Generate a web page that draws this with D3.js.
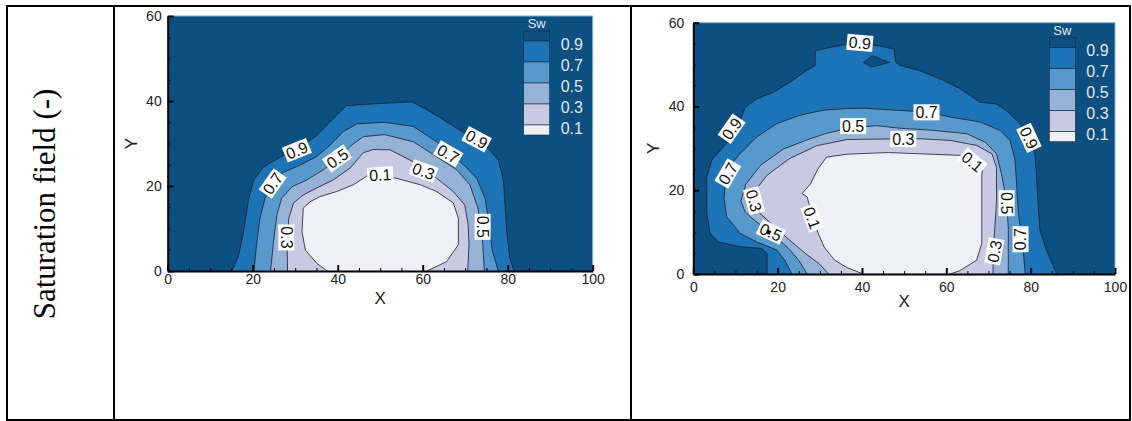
<!DOCTYPE html>
<html lang="en">
<head>
  <meta charset="UTF-8">
  <title>Saturation field</title>
  <style>
    body { margin: 0; background: #fff; }
  </style>
</head>
<body>
  <script src="https://d3js.org/d3.v7.min.js"></script>
  <svg id="chart" width="1132" height="421"></svg>
  <script>
    // contour levels and fill colours (first = above 0.9, last = below 0.1)
    const levels = [0.9, 0.7, 0.5, 0.3, 0.1];
    const bandColors = ["#0b5081", "#1c74b7", "#5799cc", "#95b3d7", "#c8c9e3", "#efeff7"];
    const xTicks = [0, 20, 40, 60, 80, 100];
    const yTicks = [0, 20, 40, 60];
    const xMinor = [5, 10, 15, 25, 30, 35, 45, 50, 55, 65, 70, 75, 85, 90, 95];
    const yMinor = [5, 10, 15, 25, 30, 35, 45, 50, 55];

    // left plot: contour lines [X, Y], bottom-left round to bottom-right
    const leftSw09 = [[15.1,0],[16.6,3.4],[17.8,8.9],[19.0,16.7],[20.3,21.5],[22.5,24.4],[26.5,26.8],[31.0,29.0],[35.0,31.8],[38.6,35.5],[42.0,38.9],[48.0,39.3],[57.5,39.8],[60.5,38.2],[64.5,35.8],[69.0,33.0],[75.0,29.3],[77.8,26.1],[79.0,21.4],[79.4,15.0],[79.8,9.0],[80.5,3.0],[81.5,0]];
    const leftSw07 = [[20.3,0],[20.9,6.2],[21.7,12.4],[22.9,17.1],[24.9,20.6],[27.2,23.2],[31.1,24.9],[35.0,26.9],[38.2,29.6],[41.3,32.8],[44.5,34.6],[51.0,35.0],[57.8,34.0],[63.3,30.4],[69.6,25.0],[72.7,21.8],[74.7,17.1],[75.6,10.8],[76.4,4.6],[77.8,0]];
    const leftSw05 = [[24.2,0],[24.9,6.9],[25.7,13.2],[26.8,17.1],[29.2,19.8],[32.7,21.4],[36.6,23.8],[40.1,26.5],[42.9,29.3],[46.0,31.6],[51.0,32.1],[57.8,30.4],[63.3,26.9],[68.0,23.8],[71.1,20.3],[73.0,14.8],[74.0,8.5],[74.5,0]];
    const leftSw03 = [[28.2,0],[28.1,6.2],[28.5,12.4],[29.6,16.0],[31.9,17.9],[35.0,19.5],[38.9,21.4],[42.9,24.2],[46.0,27.8],[48.4,28.6],[52.3,28.5],[57.8,25.7],[60.5,23.6],[63.3,21.8],[67.2,18.7],[69.9,15.5],[70.7,10.8],[70.9,6.2],[70.6,0]];
    const leftSw01 = [[37.5,0],[35.1,1.8],[32.4,4.9],[31.6,9.3],[31.9,14.8],[33.5,16.3],[35.8,17.5],[39.8,18.7],[43.7,20.3],[46.8,22.3],[50.0,22.6],[53.9,21.8],[59.4,20.3],[63.3,18.7],[67.2,16.0],[68.4,12.4],[68.4,6.2],[65.6,2.2],[61.0,0]];
    const leftLabels = [
      { t: "0.9", x: 30.4, y: 28.4, a: -22 }, { t: "0.7", x: 24.7, y: 20.6, a: -55 },
      { t: "0.5", x: 39.9, y: 26.5, a: -35 }, { t: "0.1", x: 50.0, y: 22.6, a: -3 },
      { t: "0.3", x: 27.9, y: 7.9, a: 90 }, { t: "0.9", x: 72.7, y: 31.0, a: 28 },
      { t: "0.7", x: 66.0, y: 27.6, a: 30 }, { t: "0.3", x: 60.2, y: 23.5, a: 20 },
      { t: "0.5", x: 74.1, y: 10.4, a: 90 }
    ];

    // right plot
    const rightSw09 = [[17.5,0],[17.5,4.9],[16.2,6.1],[11.1,6.5],[5.9,7.7],[4.0,9.7],[3.2,14.5],[3.2,23.2],[4.4,27.2],[7.1,30.3],[10.3,34.3],[12.3,39.8],[15.0,41.8],[19.0,43.4],[22.9,45.8],[26.9,48.6],[28.9,49.8],[28.9,53.3],[32.4,54.1],[36.4,54.8],[40.1,55.0],[44.0,54.5],[47.6,53.7],[48.0,50.6],[49.0,49.8],[53.8,48.5],[58.5,46.6],[63.3,44.2],[68.0,41.0],[71.9,40.6],[74.3,39.0],[76.7,36.7],[78.7,34.3],[81.0,28.7],[81.4,23.2],[81.8,16.2],[82.2,10.5],[83.4,6.6],[85.0,2.7],[86.2,0]];
    const rightIsland09 = [[40.3,50.5],[42.5,52.1],[46.5,50.5],[42.3,49.4]];
    const rightSw07 = [[23.4,0],[21.7,3.3],[19.8,5.7],[15.0,7.7],[11.1,9.7],[7.9,13.7],[7.3,18.0],[7.5,21.0],[8.3,25.5],[11.1,28.7],[15.0,32.7],[19.8,35.9],[25.3,37.9],[30.8,39.1],[36.4,39.5],[40.3,39.6],[48.2,39.1],[55.3,38.7],[60.9,37.5],[68.0,36.3],[72.7,34.3],[75.1,31.9],[76.3,27.2],[76.7,20.8],[77.1,14.5],[77.9,8.1],[78.3,4.9],[78.7,0]];
    const rightSw05 = [[27.0,0],[25.0,3.3],[22.6,6.1],[18.2,10.0],[14.8,12.6],[12.3,14.8],[11.3,17.5],[12.5,21.5],[16.0,26.0],[21.3,29.8],[26.9,32.0],[31.6,33.6],[37.9,35.0],[43.5,35.4],[49.0,34.8],[56.9,34.3],[64.8,33.5],[69.2,31.5],[71.9,28.7],[73.1,23.8],[74.3,17.1],[74.7,11.1],[74.7,4.9],[74.7,0]];
    const rightSw03 = [[32.1,0],[29.8,2.5],[26.6,4.9],[22.7,8.2],[18.5,12.0],[15.5,14.8],[14.2,17.2],[14.8,20.0],[17.4,23.5],[22.9,27.6],[29.2,30.6],[36.4,32.1],[43.0,32.2],[49.8,32.3],[53.8,32.3],[60.9,31.9],[67.2,30.7],[70.8,28.7],[71.9,25.5],[71.9,17.5],[71.5,11.1],[71.1,4.4],[71.1,0]];
    const rightSw01 = [[40.3,0],[36.5,1.5],[33.5,3.3],[31.0,6.5],[29.5,10.0],[28.0,14.5],[27.0,18.4],[25.8,19.2],[27.8,21.5],[29.5,25.0],[31.6,27.9],[36.4,28.6],[46.3,29.0],[56.1,28.6],[64.0,28.3],[66.5,27.5],[68.6,25.8],[68.4,23.1],[68.4,7.3],[67.2,3.3],[63.2,0.8],[60.9,0]];
    const rightLabels = [
      { t: "0.9", x: 39.5, y: 55.2, a: 5 }, { t: "0.9", x: 9.1, y: 34.7, a: -55 },
      { t: "0.7", x: 55.3, y: 38.6, a: 0 }, { t: "0.5", x: 37.9, y: 35.3, a: 0 },
      { t: "0.3", x: 49.8, y: 32.2, a: 0 }, { t: "0.9", x: 79.6, y: 32.5, a: 65 },
      { t: "0.1", x: 66.2, y: 26.8, a: 40 }, { t: "0.7", x: 8.2, y: 24.0, a: -60 },
      { t: "0.3", x: 14.4, y: 17.5, a: 75 }, { t: "0.5", x: 18.4, y: 10.0, a: 25, dot: true },
      { t: "0.1", x: 28.2, y: 13.4, a: 70 }, { t: "0.5", x: 74.3, y: 16.9, a: 90 },
      { t: "0.7", x: 77.6, y: 8.3, a: -90 }, { t: "0.3", x: 71.4, y: 5.4, a: -80 }
    ];

    const svg = d3.select("svg#chart");
    const font = "'Liberation Sans', Arial, sans-serif";

    // table frame
    svg.append("rect").attr("x", 7).attr("y", 6).attr("width", 1123).attr("height", 414)
      .attr("fill", "none").attr("stroke", "#000").attr("stroke-width", 2);
    [114, 631].forEach(function (xx) {
      svg.append("line").attr("x1", xx).attr("x2", xx).attr("y1", 6).attr("y2", 420)
        .attr("stroke", "#000").attr("stroke-width", 2);
    });
    svg.append("text")
      .attr("transform", "translate(55,204) rotate(-90)")
      .attr("text-anchor", "middle")
      .style("font-family", "'Liberation Serif', 'Times New Roman', serif")
      .style("font-size", "31px")
      .text("Saturation field (-)");

    const plots = [
      { left: 167.7, right: 592.7, top: 16, bottom: 271, xPad: 3, yPad: 6, xTitle: 304, yTitle: 37,
        lines: [leftSw09, leftSw07, leftSw05, leftSw03, leftSw01], island: null, labels: leftLabels },
      { left: 693.3, right: 1115, top: 22.7, bottom: 274, xPad: 8, yPad: 9, xTitle: 307, yTitle: 40,
        lines: [rightSw09, rightSw07, rightSw05, rightSw03, rightSw01], island: rightIsland09, labels: rightLabels }
    ];

    plots.forEach(function (p) {
      const x = d3.scaleLinear().domain([0, 100]).range([p.left, p.right]);
      const y = d3.scaleLinear().domain([0, 60]).range([p.bottom, p.top]);
      const line = d3.line().x(d => x(d[0])).y(d => y(d[1]));
      const g = svg.append("g");

      // background = above 0.9
      g.append("rect").attr("x", x(0)).attr("y", y(60))
        .attr("width", x(100) - x(0)).attr("height", y(0) - y(60))
        .attr("fill", bandColors[0]);

      p.lines.forEach(function (pts, i) {
        g.append("path").attr("d", line(pts) + "Z").attr("fill", bandColors[i + 1]);
        g.append("path").attr("d", line(pts)).attr("fill", "none")
          .attr("stroke", "#1d1d2b").attr("stroke-width", 0.8);
        if (i === 0 && p.island) {
          g.append("path").attr("d", line(p.island) + "Z").attr("fill", bandColors[0])
            .attr("stroke", "#1d1d2b").attr("stroke-width", 0.8);
        }
      });

      // faint frame on top/right edges
      g.append("path")
        .attr("d", `M${x(0)},${y(60)}H${x(100)}V${y(0)}`)
        .attr("fill", "none").attr("stroke", "#7fb2dc").attr("stroke-width", 1);

      // contour labels
      const lab = g.selectAll(".clab").data(p.labels).join("g")
        .attr("transform", d => `translate(${x(d.x)},${y(d.y)}) rotate(${d.a})`);
      lab.append("rect").attr("x", -13).attr("y", -8).attr("width", 26).attr("height", 16)
        .attr("fill", "#fff");
      lab.append("text").attr("text-anchor", "middle").attr("dy", "0.36em")
        .style("font-family", font).style("font-size", "16px").attr("fill", "#111")
        .text(d => d.t);
      lab.filter(d => d.dot).append("rect").attr("x", -4).attr("y", -1).attr("width", 4).attr("height", 4)
        .attr("fill", "#000");

      // legend
      const lx = p.left + 356, ly = p.top + 15, bw = 26, rh = 21, half = 10;
      const bounds = levels.map((lv, i) => ly + half + rh * i);
      const edges = [ly].concat(bounds).concat([bounds[bounds.length - 1] + half]);
      bandColors.forEach(function (c, i) {
        g.append("rect").attr("x", lx).attr("y", edges[i]).attr("width", bw)
          .attr("height", edges[i + 1] - edges[i]).attr("fill", c)
          .attr("stroke", "#1d2a3a").attr("stroke-width", 0.6);
      });
      g.append("text").attr("x", lx + bw / 2).attr("y", ly - 3).attr("text-anchor", "middle")
        .style("font-family", font).style("font-size", "13px").attr("fill", "#e4e6ef").text("Sw");
      levels.forEach(function (lv, i) {
        g.append("text").attr("x", lx + bw + 11).attr("y", bounds[i] + 3).attr("dy", "0.36em")
          .style("font-family", font).style("font-size", "16px").attr("fill", "#e4e6ef")
          .text(lv.toFixed(1));
      });

      // axes
      const styleAxis = a => {
        a.attr("font-family", font).attr("font-size", 14);
        a.selectAll("text").attr("fill", "#222");
        a.select(".domain").attr("stroke", "#000").attr("stroke-width", 2);
        a.selectAll(".tick line").attr("stroke", "#000");
      };
      g.append("g").attr("transform", `translate(0,${p.bottom})`)
        .call(d3.axisBottom(x).tickValues(xMinor).tickSize(-3).tickFormat(""))
        .call(a => { a.select(".domain").remove(); a.selectAll("line").attr("stroke", "#000"); });
      g.append("g").attr("transform", `translate(${p.left},0)`)
        .call(d3.axisLeft(y).tickValues(yMinor).tickSize(-3).tickFormat(""))
        .call(a => { a.select(".domain").remove(); a.selectAll("line").attr("stroke", "#000"); });
      g.append("g").attr("transform", `translate(0,${p.bottom})`)
        .call(d3.axisBottom(x).tickValues(xTicks).tickSizeInner(-6).tickSizeOuter(0).tickPadding(p.xPad))
        .call(styleAxis)
        .call(a => a.selectAll(".tick line").attr("stroke-width", 2));
      g.append("g").attr("transform", `translate(${p.left},0)`)
        .call(d3.axisLeft(y).tickValues(yTicks).tickSizeInner(-6).tickSizeOuter(0).tickPadding(p.yPad))
        .call(styleAxis)
        .call(a => a.selectAll(".tick line").attr("stroke-width", 2));

      // axis titles
      g.append("text").attr("x", (p.left + p.right) / 2).attr("y", p.xTitle).attr("text-anchor", "middle")
        .style("font-family", font).style("font-size", "17px").attr("fill", "#222").text("X");
      g.append("text")
        .attr("transform", `translate(${p.left - p.yTitle},${(p.top + p.bottom) / 2}) rotate(-90)`)
        .attr("text-anchor", "middle").attr("dy", "0.36em")
        .style("font-family", font).style("font-size", "17px").attr("fill", "#222").text("Y");
    });
  </script>
</body>
</html>
